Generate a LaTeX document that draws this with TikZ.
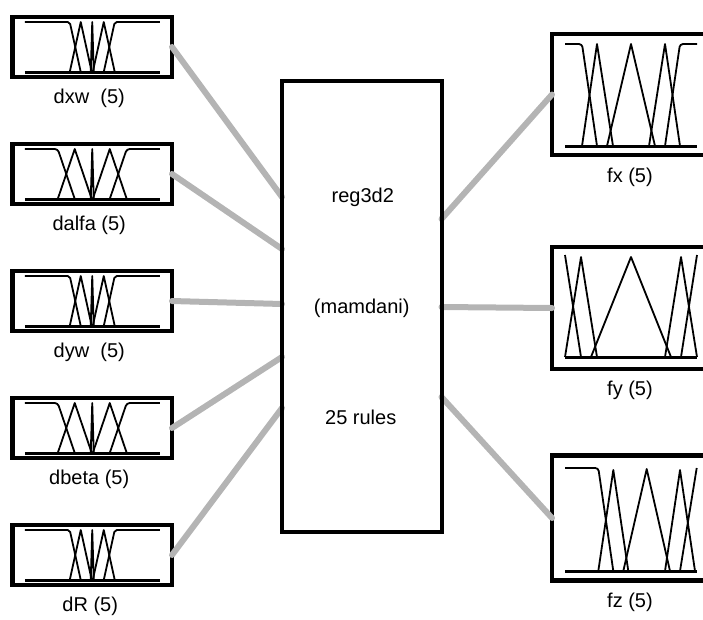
\documentclass[tikz,border=0pt]{standalone}
\usepackage{fontspec}
\setmainfont{Liberation Sans}
\definecolor{wiregray}{RGB}{180,180,180}

% membership functions of the narrow inputs (dxw, dyw, dR), drawn from the base-left corner
\newcommand\narrowmfs{%
  \draw[mfaxis] (0,0) -- (135,0);
  \draw[mf, rounded corners=2pt] (0,50) -- (45,50) -- (56,0);
  \draw[mf] (45,0) -- (56,50) -- (67,0);
  \draw[mf] (66,0) -- (67.5,50) -- (69,0);
  \draw[mf] (68,0) -- (79,50) -- (90,0);
  \draw[mf, rounded corners=2pt] (79,0) -- (90,50) -- (135,50);
}
% membership functions of the wide inputs (dalfa, dbeta)
\newcommand\widemfs{%
  \draw[mfaxis] (0,0) -- (135,0);
  \draw[mf, rounded corners=3pt] (0,50) -- (33,50) -- (50,0);
  \draw[mf] (33,0) -- (50,50) -- (67,0);
  \draw[mf] (66,0) -- (67.5,50) -- (69,0);
  \draw[mf] (68,0) -- (85,50) -- (102,0);
  \draw[mf, rounded corners=3pt] (85,0) -- (102,50) -- (135,50);
}

\begin{document}
\begin{tikzpicture}[x=1pt, y=-1pt,
  every node/.style={font=\fontsize{20}{24}\selectfont},
  inbox/.style={draw, line width=4.5pt, rectangle, outer sep=0pt, inner sep=0pt,
                minimum width=159.5pt, minimum height=60pt},
  outbox/.style={draw, line width=4.5pt, rectangle, outer sep=0pt, inner sep=0pt,
                 minimum width=159pt},
  sysbox/.style={rectangle, outer sep=0pt, inner sep=0pt,
                 minimum width=159.5pt, minimum height=451pt},
  sysline/.style={line width=4pt},
  wire/.style={draw=wiregray, line width=6pt, line cap=round},
  mf/.style={line width=1.8pt, line join=round},
  mfaxis/.style={line width=3pt},
  tag/.style={anchor=base, inner sep=0pt}]

\useasboundingbox (0,0) rectangle (703,619);
\clip (0,0) rectangle (703,619);

% input variables
\node[inbox] (dxw)   at (92.25,47)  {};
\node[inbox] (dalfa) at (92.25,174) {};
\node[inbox] (dyw)   at (92.25,301) {};
\node[inbox] (dbeta) at (92.25,428) {};
\node[inbox] (dR)    at (92.25,555) {};

\node[tag] (dxw-t)   at ([xshift=-3pt,yshift=-56pt]dxw.center)   {dxw\ \ (5)};
\node[tag] (dalfa-t) at ([xshift=-3pt,yshift=-56pt]dalfa.center) {dalfa (5)};
\node[tag] (dyw-t)   at ([xshift=-3pt,yshift=-56pt]dyw.center)   {dyw\ \ (5)};
\node[tag] (dbeta-t) at ([xshift=-3pt,yshift=-56pt]dbeta.center) {dbeta (5)};
\node[tag] (dR-t)    at ([xshift=-2pt,yshift=-56pt]dR.center)    {dR (5)};

\foreach \v in {dxw,dyw,dR}{
  \begin{scope}[shift={(\v.center)}, xshift=-67.5pt, yshift=-25pt, y=1pt]
    \narrowmfs
  \end{scope}
}
\foreach \v in {dalfa,dbeta}{
  \begin{scope}[shift={(\v.center)}, xshift=-67.5pt, yshift=-25pt, y=1pt]
    \widemfs
  \end{scope}
}

% output variables
\node[outbox, minimum height=121pt] (fx) at (631.5,94.5) {};
\node[outbox, minimum height=122pt] (fy) at (631.5,308)  {};
\node[outbox, minimum height=125pt] (fz) at (631.5,518)  {};

\node[tag] (fx-t) at ([xshift=-1.5pt,yshift=-88pt]fx.center) {fx (5)};
\node[tag] (fy-t) at ([xshift=-1.5pt,yshift=-87pt]fy.center) {fy (5)};
\node[tag] (fz-t) at ([xshift=-1.5pt,yshift=-89pt]fz.center) {fz (5)};

\begin{scope}[shift={(fx.center)}, xshift=-66.5pt, yshift=-51.5pt, y=1pt]
  \draw[mfaxis] (0,0) -- (132,0);
  \draw[mf, rounded corners=3pt] (0,102) -- (17,102) -- (32,0);
  \draw[mf] (17,0) -- (32,102) -- (48,0);
  \draw[mf] (42,0) -- (66,102) -- (90,0);
  \draw[mf] (84,0) -- (100,102) -- (115,0);
  \draw[mf, rounded corners=3pt] (100,0) -- (115,102) -- (132,102);
\end{scope}

\begin{scope}[shift={(fy.center)}, xshift=-66.5pt, yshift=-49pt, y=1pt]
  \draw[mfaxis] (0,0) -- (132,0);
  \draw[mf] (0,102) -- (16,0);
  \draw[mf] (0,0) -- (16,100) -- (32,0);
  \draw[mf] (26,0) -- (66,100) -- (106,0);
  \draw[mf] (100,0) -- (116,100) -- (132,0);
  \draw[mf] (116,0) -- (132,102);
\end{scope}

\begin{scope}[shift={(fz.center)}, xshift=-66.5pt, yshift=-53pt, y=1pt]
  \draw[mfaxis] (0,0) -- (132,0);
  \draw[mf, rounded corners=3pt] (0,103) -- (33.3,103) -- (48.3,0);
  \draw[mf] (33.3,0) -- (48.3,101) -- (63.3,0);
  \draw[mf] (58.3,0) -- (81.7,102) -- (105,0);
  \draw[mf] (100,0) -- (115,101) -- (130,0);
  \draw[mf] (115,0) -- (131.7,103);
\end{scope}

% fuzzy inference system
\node[sysbox] (reg) at (361.75,306.5) {};
\node[tag] (reg-name)  at ([xshift=1pt,yshift=104.5pt]reg.center) {reg3d2};
\node[tag] (reg-type)  at ([yshift=-6.5pt]reg.center)              {(mamdani)};
\node[tag] (reg-rules) at ([xshift=-1pt,yshift=-117.5pt]reg.center) {25 rules};

% connections
\draw[wire] (dxw.east)   -- ([yshift=109.5pt]reg.west);
\draw[wire] (dalfa.east) -- ([yshift=57.5pt]reg.west);
\draw[wire] (dyw.east)   -- ([yshift=2.5pt]reg.west);
\draw[wire] (dbeta.east) -- ([yshift=-50.5pt]reg.west);
\draw[wire] (dR.east)    -- ([yshift=-101.5pt]reg.west);

\draw[wire] ([yshift=87.5pt]reg.east) -- (fx.west);
\draw[wire] ([yshift=-0.5pt]reg.east) -- (fy.west);
\draw[wire] ([yshift=-90.5pt]reg.east) -- (fz.west);

\draw[sysline] (reg.north west) rectangle (reg.south east);
\end{tikzpicture}
\end{document}
